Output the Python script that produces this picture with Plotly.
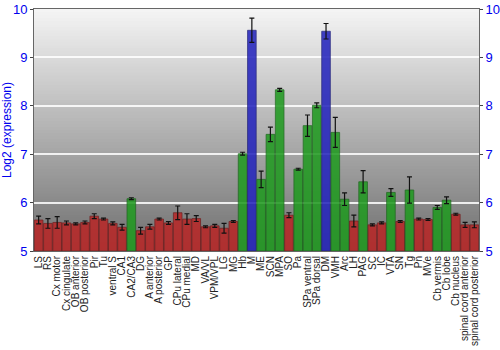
import plotly.graph_objects as go

categories = ["LS", "RS", "Cx motor", "Cx cingulate", "OB anterior", "OB posterior", "Pir", "Tu",
              "ventral S", "CA1", "CA2/CA3", "DG", "A anterior", "A posterior", "GP", "CPu lateral",
              "CPu medial", "MD", "VA/VL", "VPM/VPL", "LG", "MG", "Hb", "M", "ME", "SCN", "MPA", "SO",
              "Pa", "SPa ventral", "SPa dorsal", "DM", "VMH", "Arc", "LH", "PAG", "SC", "IC", "VTA",
              "SN", "Tg", "Pn", "MVe", "Cb vermis", "Cb lobe", "Cb nucleus",
              "spinal cord anterior", "spinal cord posterior"]
values = [5.64, 5.57, 5.59, 5.58, 5.56, 5.59, 5.72, 5.66, 5.57, 5.49, 6.08, 5.42, 5.50, 5.66, 5.58,
          5.79, 5.66, 5.67, 5.50, 5.52, 5.47, 5.61, 7.01, 9.56, 6.48, 7.41, 8.33, 5.74, 6.69, 7.59,
          8.01, 9.54, 7.45, 6.07, 5.62, 6.43, 5.54, 5.58, 6.21, 5.61, 6.26, 5.66, 5.65, 5.90, 6.05,
          5.76, 5.54, 5.54]
errors = [0.08, 0.10, 0.12, 0.04, 0.02, 0.03, 0.05, 0.02, 0.03, 0.06, 0.02, 0.07, 0.05, 0.02, 0.03,
          0.14, 0.11, 0.06, 0.02, 0.03, 0.10, 0.02, 0.03, 0.25, 0.17, 0.15, 0.03, 0.05, 0.02, 0.22,
          0.05, 0.16, 0.31, 0.13, 0.12, 0.23, 0.02, 0.02, 0.08, 0.02, 0.27, 0.02, 0.02, 0.04, 0.07,
          0.02, 0.05, 0.06]
groups = ["low"] * 10 + ["mid"] + ["low"] * 11 + [
    "mid", "high", "mid", "mid", "mid", "low", "mid", "mid", "mid", "high",
    "mid", "mid", "low", "mid", "low", "low", "mid", "low", "mid", "low", "low",
    "mid", "mid", "low", "low", "low"]

fill = {"low": "#b92626", "mid": "#1f9a1f", "high": "#2323bd"}
edge = {"low": "#701818", "mid": "#156515", "high": "#181875"}

y_min, y_max = 5, 10

fig = go.Figure()

# gradient background (overlapping strips to avoid seams)
n = 80
for i in range(n):
    t = i / (n - 1)
    v = int(round(0x70 + (0xf4 - 0x70) * t))
    y0 = y_min + (y_max - y_min) * i / n
    y1 = y_min + (y_max - y_min) * (i + 2) / n
    fig.add_shape(type="rect", xref="paper", yref="y", x0=0, x1=1, y0=y0, y1=min(y1, y_max),
                  fillcolor=f"rgb({v},{v},{v})", line=dict(width=0), layer="below")

fig.add_trace(go.Bar(
    x=categories, y=[v - y_min for v in values], base=y_min,
    marker=dict(color=[fill[g] for g in groups], opacity=0.86,
                line=dict(color=[edge[g] for g in groups], width=0.8)),
    error_y=dict(type="data", array=errors, color="#111111", thickness=1.2, width=2.5),
    showlegend=False,
))
fig.add_trace(go.Scatter(x=[categories[0]], y=[y_min], yaxis="y2", mode="markers",
                         marker=dict(opacity=0, size=1), showlegend=False, hoverinfo="skip"))

tick_vals = [5, 6, 7, 8, 9, 10]
fig.update_layout(
    width=500, height=350,
    margin=dict(l=34, r=21, t=9, b=99),
    paper_bgcolor="white", plot_bgcolor="#888888",
    bargap=0.07,
    font=dict(family="Liberation Sans, Arial, sans-serif"),
    xaxis=dict(tickmode="array", tickvals=categories, ticktext=categories,
               range=[-0.5, len(categories) - 0.5],
               tickangle=-90, tickfont=dict(size=10, color="#222222"), showgrid=False,
               showline=True, linecolor="#666666", mirror=True, ticks="", ticklen=0,
               automargin=False),
    yaxis=dict(range=[y_min, y_max], tickvals=tick_vals, ticks="outside", ticklen=3,
               tickcolor="#444444", tickfont=dict(size=13, color="#0000ee"),
               showgrid=True, gridcolor="rgba(255,255,255,0.85)", gridwidth=1.5,
               showline=True, linecolor="#666666", zeroline=False, automargin=False,
               title=dict(text="Log2 (expression)", font=dict(size=12, color="#0000ee"), standoff=4)),
    yaxis2=dict(range=[y_min, y_max], tickvals=tick_vals, overlaying="y", side="right",
                ticks="outside", ticklen=3, tickcolor="#444444",
                tickfont=dict(size=13, color="#0000ee"), showgrid=False, automargin=False,
                showline=True, linecolor="#666666", zeroline=False),
)

fig.write_html("out.html")
